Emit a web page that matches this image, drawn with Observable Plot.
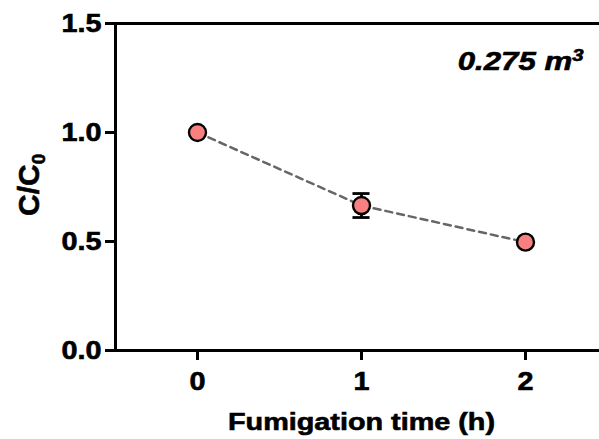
<!DOCTYPE html>
<html><head><meta charset="utf-8">
<script src="https://cdn.jsdelivr.net/npm/d3@7"></script>
<script src="https://cdn.jsdelivr.net/npm/@observablehq/plot@0.6"></script>
<style>body{margin:0;background:#fff;overflow:hidden} #chart svg{overflow:hidden;display:block}</style>
</head><body><div id="chart"></div>
<script>
const times = [0, 1, 2];
const ratios = [1.0, 0.665, 0.497];
const errors = [0, 0.055, 0];
const xTicks = [0, 1, 2];
const yTicks = [0, 0.5, 1.0, 1.5];
const xLabel = "Fumigation time (h)";
const yLabel = ["C/C", "0"];
const annotation = ["0.275 m", "3"];

const data = times.map((t, i) => ({t, r: ratios[i], e: errors[i]}));
const bars = data.filter(d => d.e > 0);
const FONT = "Arial, 'Liberation Sans', sans-serif";
const fmtY = d3.format(".1f");

const plot = Plot.plot({
  width: 599, height: 439,
  marginLeft: 115, marginRight: 0, marginTop: 23, marginBottom: 89,
  style: {fontFamily: FONT, background: "white", color: "black"},
  x: {domain: [-0.5, 2.5], range: [115, 607]},
  y: {domain: [0, 1.5], range: [350, 23]},
  marks: [
    Plot.line(data, {x: "t", y: "r", stroke: "#666", strokeWidth: 2.5, strokeDasharray: "7,5"}),
    Plot.ruleX(bars, {x: "t", y1: d => d.r - d.e, y2: d => d.r + d.e, stroke: "black", strokeWidth: 2.8}),
    Plot.ruleY(bars, {y: d => d.r + d.e, x1: d => d.t - 0.052, x2: d => d.t + 0.052, stroke: "black", strokeWidth: 2.8}),
    Plot.ruleY(bars, {y: d => d.r - d.e, x1: d => d.t - 0.052, x2: d => d.t + 0.052, stroke: "black", strokeWidth: 2.8}),
    Plot.dot(data, {x: "t", y: "r", r: 8.5, fill: "#F88080", stroke: "black", strokeWidth: 2.4}),
    Plot.axisX({ticks: xTicks, tickSize: 10, tickPadding: 12, fontSize: 25, fontWeight: "bold", label: null, strokeWidth: 3, tickFormat: d3.format("d")}),
    Plot.axisY({ticks: yTicks, tickSize: 10, tickPadding: 4, fontSize: 25, fontWeight: "bold", tickFormat: fmtY, label: null, strokeWidth: 3}),
    Plot.ruleY([0], {stroke: "black", strokeWidth: 3}),
    Plot.ruleY([1.5], {stroke: "black", strokeWidth: 3}),
    Plot.ruleX([-0.5], {stroke: "black", strokeWidth: 3}),
    Plot.text([xLabel], {x: () => 1, y: () => 0, dy: 71.5, text: d => d, fontSize: 24, fontWeight: "bold", lineAnchor: "middle", fill: "black"}),
    Plot.text([yLabel[0]], {x: () => -0.5, y: () => 0.76, dx: -86, rotate: -90, text: d => d, fontSize: 30, fontWeight: "bold", lineAnchor: "middle", fill: "black"}),
    Plot.text([annotation[0]], {frameAnchor: "top-right", dx: -16, dy: 28, text: d => d, textAnchor: "end", lineAnchor: "top", fontSize: 26, fontWeight: "bold", fontStyle: "italic", fill: "black"})
  ]
});

function stretch(el, sx) {
  const t = el.getAttribute("transform") || "";
  let tx = 0;
  const x = el.getAttribute("x");
  if (x != null && !isNaN(+x)) { tx += +x; el.removeAttribute("x"); }
  const dx = el.getAttribute("dx");
  if (dx != null && !isNaN(+dx)) { tx += +dx; el.removeAttribute("dx"); }
  el.setAttribute("transform", `${t} translate(${tx},0) scale(${sx},1)`);
}

const tickTexts = new Set([...xTicks.map(String), ...yTicks.map(fmtY)]);
d3.select(plot).selectAll("text").each(function() {
  const txt = this.textContent;
  this.setAttribute("stroke", "black");
  this.setAttribute("stroke-width", "0.6");
  this.setAttribute("fill", "black");
  if (tickTexts.has(txt)) this.style.fontSize = "25px";
  if (txt === yLabel[0]) {
    d3.select(this).append("tspan").attr("dy", "0.32em").attr("font-size", 19).text(yLabel[1]);
  } else {
    if (txt === annotation[0]) {
      d3.select(this).append("tspan").attr("dy", "-0.52em").attr("font-size", 17).text(annotation[1]);
    }
    stretch(this, tickTexts.has(txt) ? 1.15 : 1.2);
  }
});

document.getElementById("chart").append(plot);
</script>
</body></html>
